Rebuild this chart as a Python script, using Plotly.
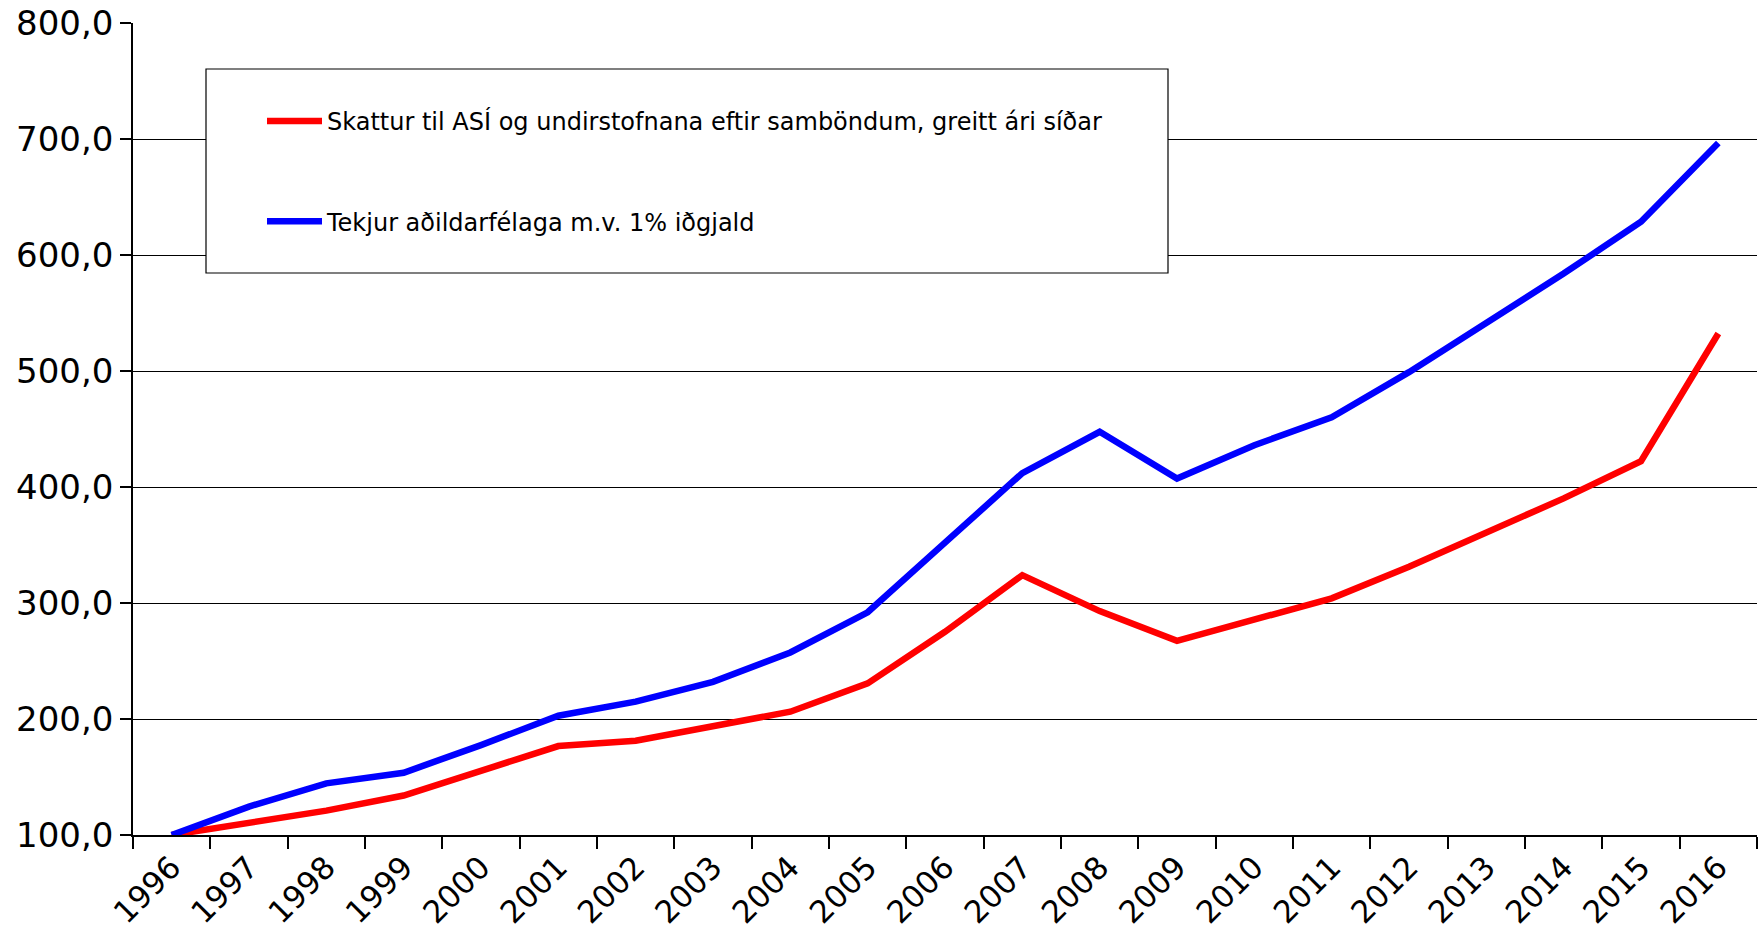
import plotly.graph_objects as go

years = [str(y) for y in range(1996, 2017)]
skattur = [100, 111, 121, 134, 155.4, 176.7, 181.3, 193.7, 206.3, 230.7, 275.2,
           324, 293, 267.4, 286, 304, 331.3, 360, 390.2, 422.3, 532.3]
tekjur = [100, 124.5, 144.5, 153.7, 177.5, 202.8, 215, 232, 257.4, 292, 352,
          412, 447.6, 407.3, 436, 460.1, 499, 541, 584, 628.6, 696.6]

name_red = "Skattur til ASÍ og undirstofnana eftir samböndum, greitt ári síðar"
name_blue = "Tekjur aðildarfélaga m.v. 1% iðgjald"

W, H = 1758, 933
L, R, T, B = 133, 1, 23, 98
pw, ph = W - L - R, H - T - B

def px(x):
    return (x - L) / pw

def py(y):
    return 1 - (y - T) / ph

fig = go.Figure()
fig.add_trace(go.Scatter(x=years, y=skattur, name=name_red, mode="lines",
                         line=dict(color="#FF0000", width=6.5), legendgroup="a"))
fig.add_trace(go.Scatter(x=years, y=tekjur, name=name_blue, mode="lines",
                         line=dict(color="#0000FF", width=6.5), legendgroup="b"))

fig.add_shape(type="rect", xref="paper", yref="paper",
              x0=px(206), x1=px(1168), y0=py(273), y1=py(69),
              line=dict(color="black", width=1.2), fillcolor="white", layer="above")

fig.update_layout(
    width=W, height=H,
    margin=dict(l=L, r=R, t=T, b=B),
    paper_bgcolor="white", plot_bgcolor="white",
    separators=",.",
    font=dict(family="DejaVu Sans", color="black"),
    showlegend=True,
    legend=dict(x=px(262), y=py(99), xanchor="left", yanchor="top",
                bgcolor="rgba(0,0,0,0)", borderwidth=0,
                font=dict(size=24, family="DejaVu Sans", color="black"),
                tracegroupgap=66, itemwidth=55),
    xaxis=dict(type="category", categoryorder="array", categoryarray=years,
               range=[-0.5, 20.5], tickson="boundaries", ticks="outside",
               ticklen=12, tickwidth=1.5, tickcolor="black",
               showline=True, linecolor="black", linewidth=1.5,
               showgrid=False, tickangle=-45,
               tickfont=dict(size=31, family="DejaVu Sans")),
    yaxis=dict(range=[100, 800], dtick=100, tick0=100, tickformat=".1f",
               ticks="outside", ticklen=11, tickwidth=1.5, tickcolor="black",
               showline=True, linecolor="black", linewidth=1.5,
               showgrid=True, gridcolor="black", gridwidth=1.3,
               zeroline=False, ticklabelstandoff=0,
               tickfont=dict(size=34, family="DejaVu Sans")),
)

fig.write_html("out.html", config={"displayModeBar": False},
               post_script="document.body.style.margin='0';")
